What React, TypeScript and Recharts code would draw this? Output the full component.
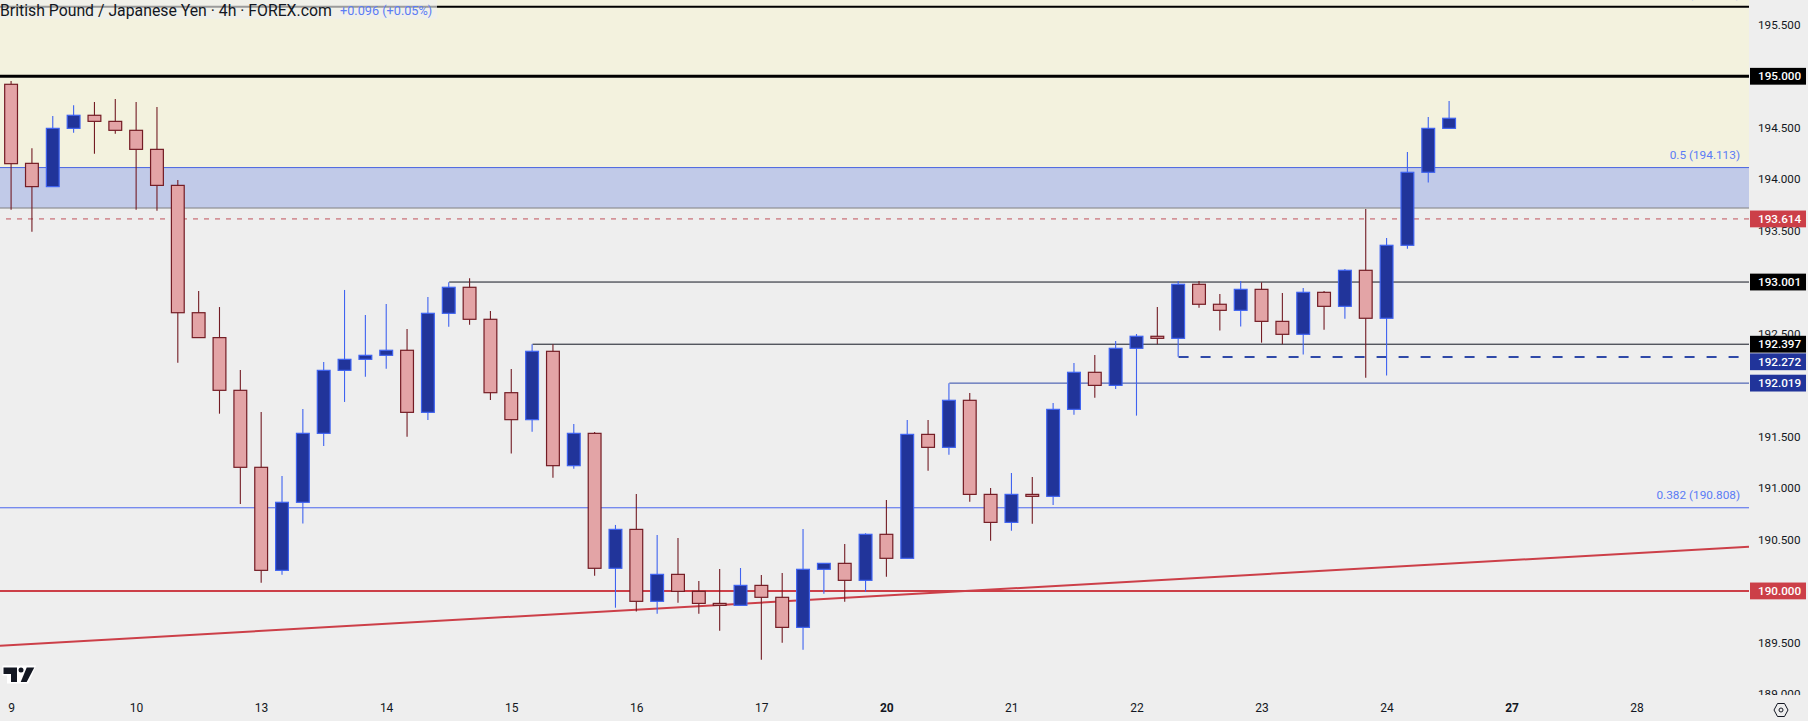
import { Bar, ComposedChart, ReferenceArea, ReferenceLine, XAxis, YAxis } from 'recharts';

const opens = [
  194.922, 194.154, 193.928, 194.494, 194.621, 194.562, 194.475, 194.29, 193.94, 192.703,
  192.461, 191.949, 191.201, 190.2, 190.861, 191.531, 192.143, 192.25, 192.289, 192.338,
  191.735, 192.697, 192.95, 192.639, 191.926, 191.664, 192.328, 191.217, 191.531, 190.22,
  190.598, 189.899, 190.161, 189.996, 189.879, 189.86, 190.054, 189.938, 189.646, 190.21,
  190.268, 190.103, 190.55, 190.317, 191.521, 191.395, 191.852, 190.938, 190.666, 190.938,
  190.919, 191.764, 192.124, 191.997, 192.357, 192.474, 192.454, 192.979, 192.785, 192.726,
  192.93, 192.619, 192.493, 192.901, 192.765, 193.115, 192.649, 193.358, 194.067, 194.494,
];
const highs = [
  194.954, 194.3, 194.614, 194.718, 194.75, 194.779, 194.75, 194.701, 193.992, 192.914,
  192.758, 192.146, 191.738, 191.117, 191.768, 192.224, 192.924, 192.681, 192.788, 192.545,
  192.856, 192.998, 193.037, 192.72, 192.156, 192.396, 192.396, 191.622, 191.544, 190.641,
  190.942, 190.543, 190.514, 190.096, 190.213, 190.223, 190.155, 190.174, 190.602, 190.268,
  190.456, 190.56, 190.883, 191.661, 191.661, 192.017, 191.923, 191.0, 191.146, 191.107,
  191.826, 192.214, 192.292, 192.428, 192.496, 192.759, 193.011, 193.011, 192.885, 193.011,
  192.998, 192.895, 192.943, 192.914, 193.128, 193.711, 193.429, 194.265, 194.605, 194.76,
];
const lows = [
  193.704, 193.49, 193.928, 194.452, 194.248, 194.442, 193.704, 193.694, 192.218, 192.461,
  191.722, 190.845, 190.08, 190.158, 190.654, 191.408, 191.836, 192.082, 192.159, 191.499,
  191.661, 192.567, 192.587, 191.855, 191.334, 191.547, 191.1, 191.188, 190.148, 189.837,
  189.799, 189.779, 189.886, 189.779, 189.614, 189.86, 189.332, 189.497, 189.429, 189.973,
  189.896, 189.993, 190.139, 190.317, 191.168, 191.324, 190.867, 190.488, 190.585, 190.653,
  190.835, 191.712, 191.878, 191.962, 191.703, 192.396, 192.276, 192.752, 192.529, 192.568,
  192.412, 192.396, 192.296, 192.538, 192.645, 192.072, 192.092, 193.325, 193.967, 194.494,
];
const closes = [
  194.151, 193.928, 194.494, 194.621, 194.562, 194.475, 194.29, 193.94, 192.703, 192.461,
  191.949, 191.201, 190.2, 190.861, 191.531, 192.143, 192.25, 192.289, 192.338, 191.735,
  192.697, 192.95, 192.639, 191.926, 191.664, 192.328, 191.217, 191.531, 190.22, 190.598,
  189.899, 190.161, 189.996, 189.879, 189.86, 190.054, 189.938, 189.646, 190.21, 190.268,
  190.103, 190.55, 190.317, 191.521, 191.395, 191.852, 190.938, 190.666, 190.938, 190.919,
  191.764, 192.124, 191.997, 192.357, 192.474, 192.454, 192.979, 192.785, 192.726, 192.93,
  192.619, 192.493, 192.901, 192.765, 193.115, 192.649, 193.358, 194.067, 194.494, 194.592,
];

const dayTicks = [0, 6, 12, 18, 24, 30, 36, 42, 48, 54, 60, 66, 72, 78];
const dayLabels = ['9', '10', '13', '14', '15', '16', '17', '20', '21', '22', '23', '24', '27', '28'];
const boldDays = ['20', '27'];
const priceTicks = [195.5, 194.5, 194, 193.5, 192.5, 191.5, 191, 190.5, 189.5, 189];

const badgeValues = [195, 193.614, 193.001, 192.397, 192.272, 192.019, 190];
const badgeColors = ['#000000', '#cc3f48', '#000000', '#000000', '#21349a', '#21349a', '#cc3f48'];

const trendStart = 189.468;
const trendEnd = 190.43;

const X_MIN = -0.552;
const X_MAX = 83.37;
const Y_MIN = 188.989;
const Y_MAX = 195.741;

const UP_FILL = '#21349a';
const UP_LINE = '#3f63f0';
const DOWN_FILL = '#e3a4a6';
const DOWN_LINE = '#731c24';
const FONT = 'Roboto, sans-serif';

const candles = opens.map((open, i) => ({
  i,
  open,
  high: highs[i],
  low: lows[i],
  close: closes[i],
}));

function Candle(props: any) {
  const { x, y, width, height, payload } = props;
  const top = Math.min(y, y + height);
  const span = Math.abs(height);
  const perUnit = span / (payload.high - payload.low);
  const up = payload.close >= payload.open;
  const bodyTop = top + (payload.high - Math.max(payload.open, payload.close)) * perUnit;
  const bodyH = Math.abs(payload.close - payload.open) * perUnit;
  const mid = x + width / 2;
  return (
    <g>
      <line x1={mid} x2={mid} y1={top} y2={top + span} stroke={up ? UP_LINE : DOWN_LINE} strokeWidth={1.1} />
      <rect
        x={x + 0.6}
        y={bodyTop}
        width={width - 1.2}
        height={Math.max(bodyH, 1)}
        fill={up ? UP_FILL : DOWN_FILL}
        stroke={up ? UP_LINE : DOWN_LINE}
        strokeWidth={1.2}
      />
    </g>
  );
}

function PriceTick(props: any) {
  const { x, y, payload } = props;
  const idx = badgeValues.indexOf(payload.value);
  const text = Number(payload.value).toFixed(3);
  if (idx < 0) {
    return (
      <g clipPath="url(#priceClip)">
        <text x={x + 8} y={y + 4.2} fontSize={11.7} fontFamily={FONT} fill="#131722">{text}</text>
      </g>
    );
  }
  // the 192.272 tag gets pushed down by the one above it
  const cy = payload.value === 192.272 ? y + 4.7 : y;
  return (
    <g>
      <rect x={x} y={cy - 8.4} width={56} height={16.8} fill={badgeColors[idx]} />
      <text x={x + 8} y={cy + 4.2} fontSize={11.7} fontWeight={500} fontFamily={FONT} fill="#ffffff">{text}</text>
    </g>
  );
}

function DayTick(props: any) {
  const { x, y, payload, index } = props;
  const label = dayLabels[index] ?? dayLabels[dayTicks.indexOf(payload.value)];
  return (
    <text
      x={x}
      y={y}
      textAnchor="middle"
      fontSize={12}
      fontFamily={FONT}
      fontWeight={boldDays.includes(label) ? 700 : 400}
      fill="#131722"
    >
      {label}
    </text>
  );
}

const fibLabel = (text: string) => (props: any) => {
  const { viewBox } = props;
  return (
    <text
      x={viewBox.x + viewBox.width - 9}
      y={viewBox.y - 8.5}
      textAnchor="end"
      fontSize={11.8}
      fontFamily={FONT}
      fill="#5b7cf5"
    >
      {text}
    </text>
  );
};

export default function App() {
  return (
    <div style={{ position: 'absolute', left: 0, top: 0, width: 1808, height: 721, background: '#eeeeee', overflow: 'hidden' }}>
      <ComposedChart width={1808} height={721} data={candles} margin={{ top: 0, right: 0, bottom: 0, left: 0 }}>
        <defs>
          <clipPath id="priceClip">
            <rect x={0} y={0} width={1808} height={695} />
          </clipPath>
        </defs>
        <XAxis
          type="number"
          dataKey="i"
          domain={[X_MIN, X_MAX]}
          allowDataOverflow
          ticks={dayTicks}
          interval={0}
          height={26}
          axisLine={false}
          tickLine={false}
          tick={<DayTick />}
          tickMargin={11}
        />
        <YAxis
          type="number"
          orientation="right"
          domain={[Y_MIN, Y_MAX]}
          allowDataOverflow
          ticks={[...priceTicks, ...badgeValues]}
          interval={0}
          width={59}
          axisLine={false}
          tickLine={false}
          tick={<PriceTick />}
          tickSize={0}
          tickMargin={1}
        />
        <ReferenceArea y1={194.113} y2={Y_MAX} fill="#f3f2de" fillOpacity={1} stroke="none" />
        <ReferenceArea y1={193.72} y2={194.113} fill="#c1cae8" fillOpacity={1} stroke="none" />
        <ReferenceLine y={195.676} stroke="#000000" strokeWidth={2} label={fibLabel('(195.676)')} />
        <ReferenceLine y={195} stroke="#000000" strokeWidth={3} />
        <ReferenceLine y={194.113} stroke="#4a66e0" strokeWidth={1} label={fibLabel('0.5 (194.113)')} />
        <ReferenceLine y={193.72} stroke="#808080" strokeWidth={1} />
        <ReferenceLine y={193.614} stroke="#c0505a" strokeWidth={1} strokeDasharray="5 6" />
        <ReferenceLine segment={[{ x: 21, y: 193.001 }, { x: X_MAX, y: 193.001 }]} stroke="#131722" strokeWidth={1} />
        <ReferenceLine segment={[{ x: 25, y: 192.397 }, { x: X_MAX, y: 192.397 }]} stroke="#131722" strokeWidth={1} />
        <ReferenceLine segment={[{ x: 56, y: 192.272 }, { x: X_MAX, y: 192.272 }]} stroke="#2f49a8" strokeWidth={2} strokeDasharray="10 12" />
        <ReferenceLine segment={[{ x: 45, y: 192.019 }, { x: X_MAX, y: 192.019 }]} stroke="#2f49a8" strokeWidth={1} />
        <ReferenceLine y={190.808} stroke="#4a66ee" strokeWidth={1} label={fibLabel('0.382 (190.808)')} />
        <ReferenceLine y={190} stroke="#cc3f48" strokeWidth={2} />
        <ReferenceLine segment={[{ x: X_MIN, y: trendStart }, { x: X_MAX, y: trendEnd }]} stroke="#cc3f48" strokeWidth={2} />
        <Bar
          dataKey={(d: any) => [d.low, d.high]}
          barSize={14}
          shape={<Candle />}
          isAnimationActive={false}
          zIndex={1000}
        />
      </ComposedChart>

      <div
        style={{
          position: 'absolute', left: 0, top: 0, width: 437, height: 19, background: 'rgba(238,238,238,0.65)',
          fontFamily: FONT, fontSize: 15.8, lineHeight: '21px', color: '#131722', whiteSpace: 'nowrap', overflow: 'hidden',
        }}
      >
        British Pound / Japanese Yen · 4h · FOREX.com
        <span style={{ position: 'absolute', left: 340, fontSize: 12.7, color: '#5b7cf5' }}>+0.096 (+0.05%)</span>
      </div>

      {/* TradingView mark */}
      <svg style={{ position: 'absolute', left: 2, top: 665 }} width={34} height={20} viewBox="0 0 34 20">
        <path d="M0.5 0.5H34L26.5 18.5H5V10.5H0.5Z" fill="#ffffff" />
        <path d="M1.5 2.5H15V17H9V9H1.5Z" fill="#131722" />
        <circle cx={19} cy={5} r={2.5} fill="#131722" />
        <path d="M24.7 2.5H32.3L24.7 17H18.7Z" fill="#131722" />
      </svg>

      {/* settings hexagon in the corner */}
      <svg style={{ position: 'absolute', left: 1773, top: 701 }} width={16} height={18} viewBox="0 0 16 18">
        <path d="M4.5 2.5H11.5L15 9L11.5 15.5H4.5L1 9Z" fill="none" stroke="#131722" strokeWidth={1} />
        <circle cx={8} cy={9} r={2} fill="none" stroke="#131722" strokeWidth={1} />
      </svg>
    </div>
  );
}
